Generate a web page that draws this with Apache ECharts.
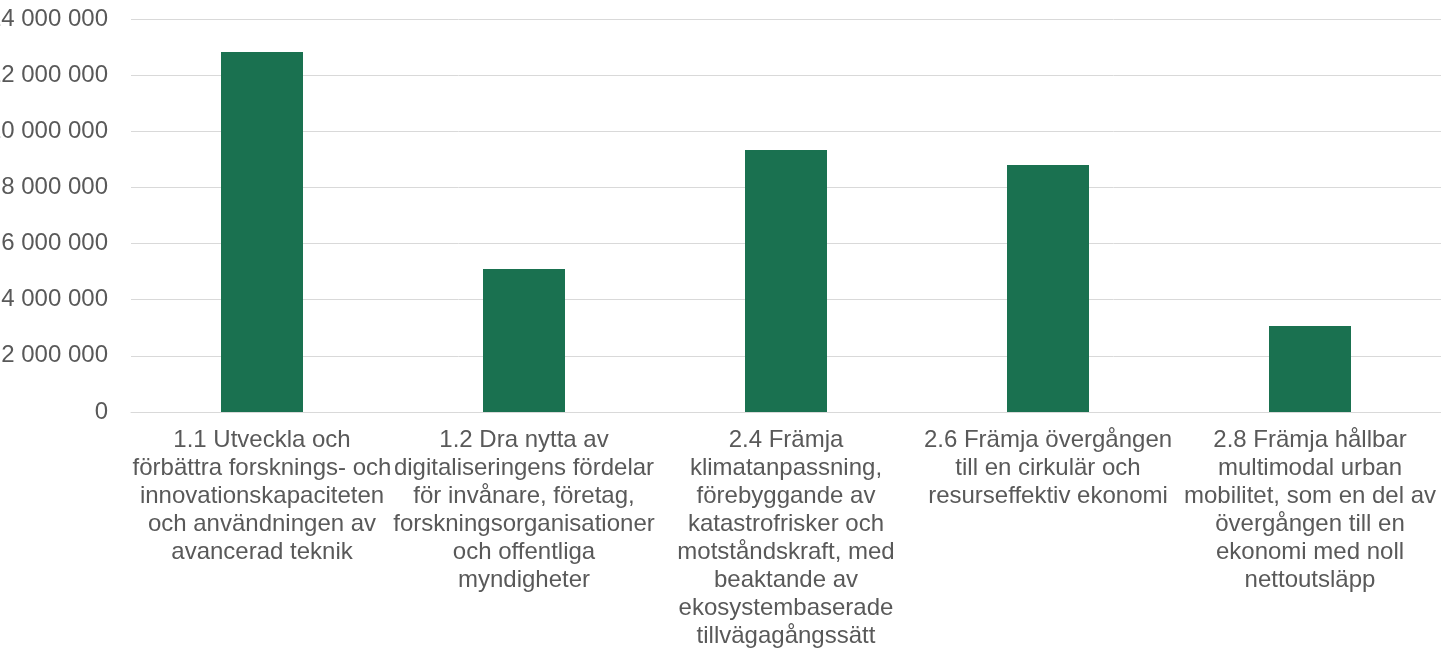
<!DOCTYPE html>
<html>
<head>
<meta charset="utf-8">
<script src="https://cdn.jsdelivr.net/npm/echarts@6/dist/echarts.min.js"></script>
<style>
html,body{margin:0;padding:0;background:#fff;}
#chart{width:1441px;height:648px;}
</style>
</head>
<body>
<div id="chart"></div>
<script>
const categories = [
  "1.1 Utveckla och\nförbättra forsknings- och\ninnovationskapaciteten\noch användningen av\navancerad teknik",
  "1.2 Dra nytta av\ndigitaliseringens fördelar\nför invånare, företag,\nforskningsorganisationer\noch offentliga\nmyndigheter",
  "2.4 Främja\nklimatanpassning,\nförebyggande av\nkatastrofrisker och\nmotståndskraft, med\nbeaktande av\nekosystembaserade\ntillvägagångssätt",
  "2.6 Främja övergången\ntill en cirkulär och\nresurseffektiv ekonomi",
  "2.8 Främja hållbar\nmultimodal urban\nmobilitet, som en del av\növergången till en\nekonomi med noll\nnettoutsläpp"
];
const values = [12820000, 5090000, 9330000, 8800000, 3060000];
const yMin = 0, yMax = 14000000, yStep = 2000000;

const chart = echarts.init(document.getElementById('chart'));
const font = "'Liberation Sans', Arial, sans-serif";
chart.setOption({
  animation: false,
  grid: { left: 131, right: 0, top: 19, bottom: 236, containLabel: false, outerBoundsMode: 'none' },
  xAxis: {
    type: 'category',
    data: categories,
    axisLine: { show: true, lineStyle: { color: '#d9d9d9', width: 1 } },
    axisTick: { show: false },
    axisLabel: {
      interval: 0,
      hideOverlap: false,
      margin: 14,
      color: '#595959',
      fontFamily: font,
      fontSize: 24,
      lineHeight: 28,
      align: 'center'
    }
  },
  yAxis: {
    type: 'value',
    min: yMin, max: yMax, interval: yStep,
    axisLine: { show: false },
    axisTick: { show: false },
    splitLine: { lineStyle: { color: '#d9d9d9', width: 1 } },
    axisLabel: {
      margin: 23,
      color: '#595959',
      fontFamily: font,
      fontSize: 24,
      formatter: v => String(v).replace(/\B(?=(\d{3})+(?!\d))/g, ' ')
    }
  },
  series: [{
    type: 'bar',
    data: values,
    barWidth: 82,
    itemStyle: { color: '#1a7150' }
  }]
});
</script>
</body>
</html>
